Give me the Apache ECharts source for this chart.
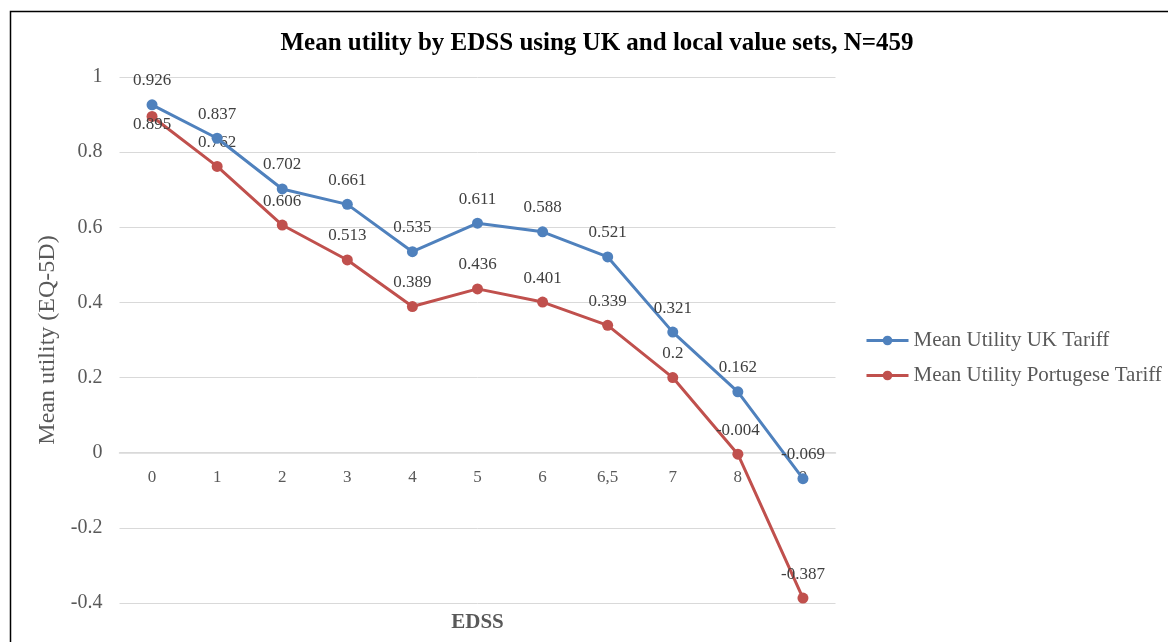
<!DOCTYPE html>
<html>
<head>
<meta charset="utf-8">
<script src="https://cdn.jsdelivr.net/npm/echarts@6/dist/echarts.min.js"></script>
<style>
  html, body { margin: 0; padding: 0; background: #fff; }
  #chart { width: 1168px; height: 642px; }
</style>
</head>
<body>
<div id="chart"></div>
<script>
// EDSS categories and mean utilities
const categories = ['0', '1', '2', '3', '4', '5', '6', '6,5', '7', '8', '9'];
const ukTariff = [0.926, 0.837, 0.702, 0.661, 0.535, 0.611, 0.588, 0.521, 0.321, 0.162, -0.069];
const ptTariff = [0.895, 0.762, 0.606, 0.513, 0.389, 0.436, 0.401, 0.339, 0.2, -0.004, -0.387];
const yTicks = { min: -0.4, max: 1, interval: 0.2 };

const font = 'Liberation Serif';
const chart = echarts.init(document.getElementById('chart'));

const labelStyle = { show: true, position: 'top', distance: 10, fontFamily: font, fontSize: 17, color: '#404040' };

const option = {
  backgroundColor: '#fff',
  animation: false,
  textStyle: { fontFamily: font },
  title: {
    text: 'Mean utility by EDSS using UK and local value sets, N=459',
    left: 592, top: 26, textAlign: 'center',
    textStyle: { fontFamily: font, fontSize: 25, fontWeight: 'bold', color: '#000' }
  },
  legend: {
    orient: 'vertical',
    left: 860, top: 325,
    itemWidth: 42, itemHeight: 12, itemGap: 14,
    lineStyle: { width: 3 },
    textStyle: { fontFamily: font, fontSize: 21, color: '#595959' },
    data: ['Mean Utility UK Tariff', 'Mean Utility Portugese Tariff']
  },
  grid: { left: 119.5, right: 332.5, top: 77, bottom: 39, containLabel: false, outerBoundsMode: 'none' },
  xAxis: {
    type: 'category',
    data: categories,
    boundaryGap: true,
    // axis sits on the zero line (150px above the grid bottom)
    offset: -150,
    name: 'EDSS',
    nameLocation: 'middle',
    nameGap: 159,
    nameTextStyle: { fontFamily: font, fontSize: 21, fontWeight: 'bold', color: '#595959' },
    axisLine: { onZero: false, lineStyle: { color: '#d9d9d9', width: 1.5 } },
    axisTick: { show: false },
    axisLabel: { fontFamily: font, fontSize: 17, color: '#595959', margin: 16 }
  },
  yAxis: {
    type: 'value',
    min: yTicks.min, max: yTicks.max, interval: yTicks.interval,
    name: 'Mean utility (EQ-5D)',
    nameLocation: 'middle',
    nameGap: 52,
    nameTextStyle: { fontFamily: font, fontSize: 24, color: '#595959' },
    axisLine: { show: false },
    axisTick: { show: false },
    axisLabel: { fontFamily: font, fontSize: 20, color: '#595959', margin: 17 },
    splitLine: { lineStyle: { color: '#d9d9d9', width: 1 } }
  },
  series: [
    {
      name: 'Mean Utility UK Tariff',
      type: 'line',
      data: ukTariff,
      symbol: 'circle', symbolSize: 11,
      lineStyle: { color: '#4f81bd', width: 3 },
      itemStyle: { color: '#4f81bd' },
      label: labelStyle,
      z: 3
    },
    {
      name: 'Mean Utility Portugese Tariff',
      type: 'line',
      // first label sits just under its marker in the reference
      data: ptTariff.map((v, i) => i === 0
        ? { value: v, label: { position: 'inside', offset: [0, 8] } }
        : v),
      symbol: 'circle', symbolSize: 11,
      lineStyle: { color: '#c0504d', width: 3 },
      itemStyle: { color: '#c0504d' },
      label: labelStyle,
      z: 2
    }
  ],
  graphic: [
    {
      type: 'rect',
      shape: { x: 10.5, y: 11.5, width: 1200, height: 700 },
      style: { fill: null, stroke: '#000', lineWidth: 1.5 },
      silent: true
    }
  ]
};

chart.setOption(option);
</script>
</body>
</html>
